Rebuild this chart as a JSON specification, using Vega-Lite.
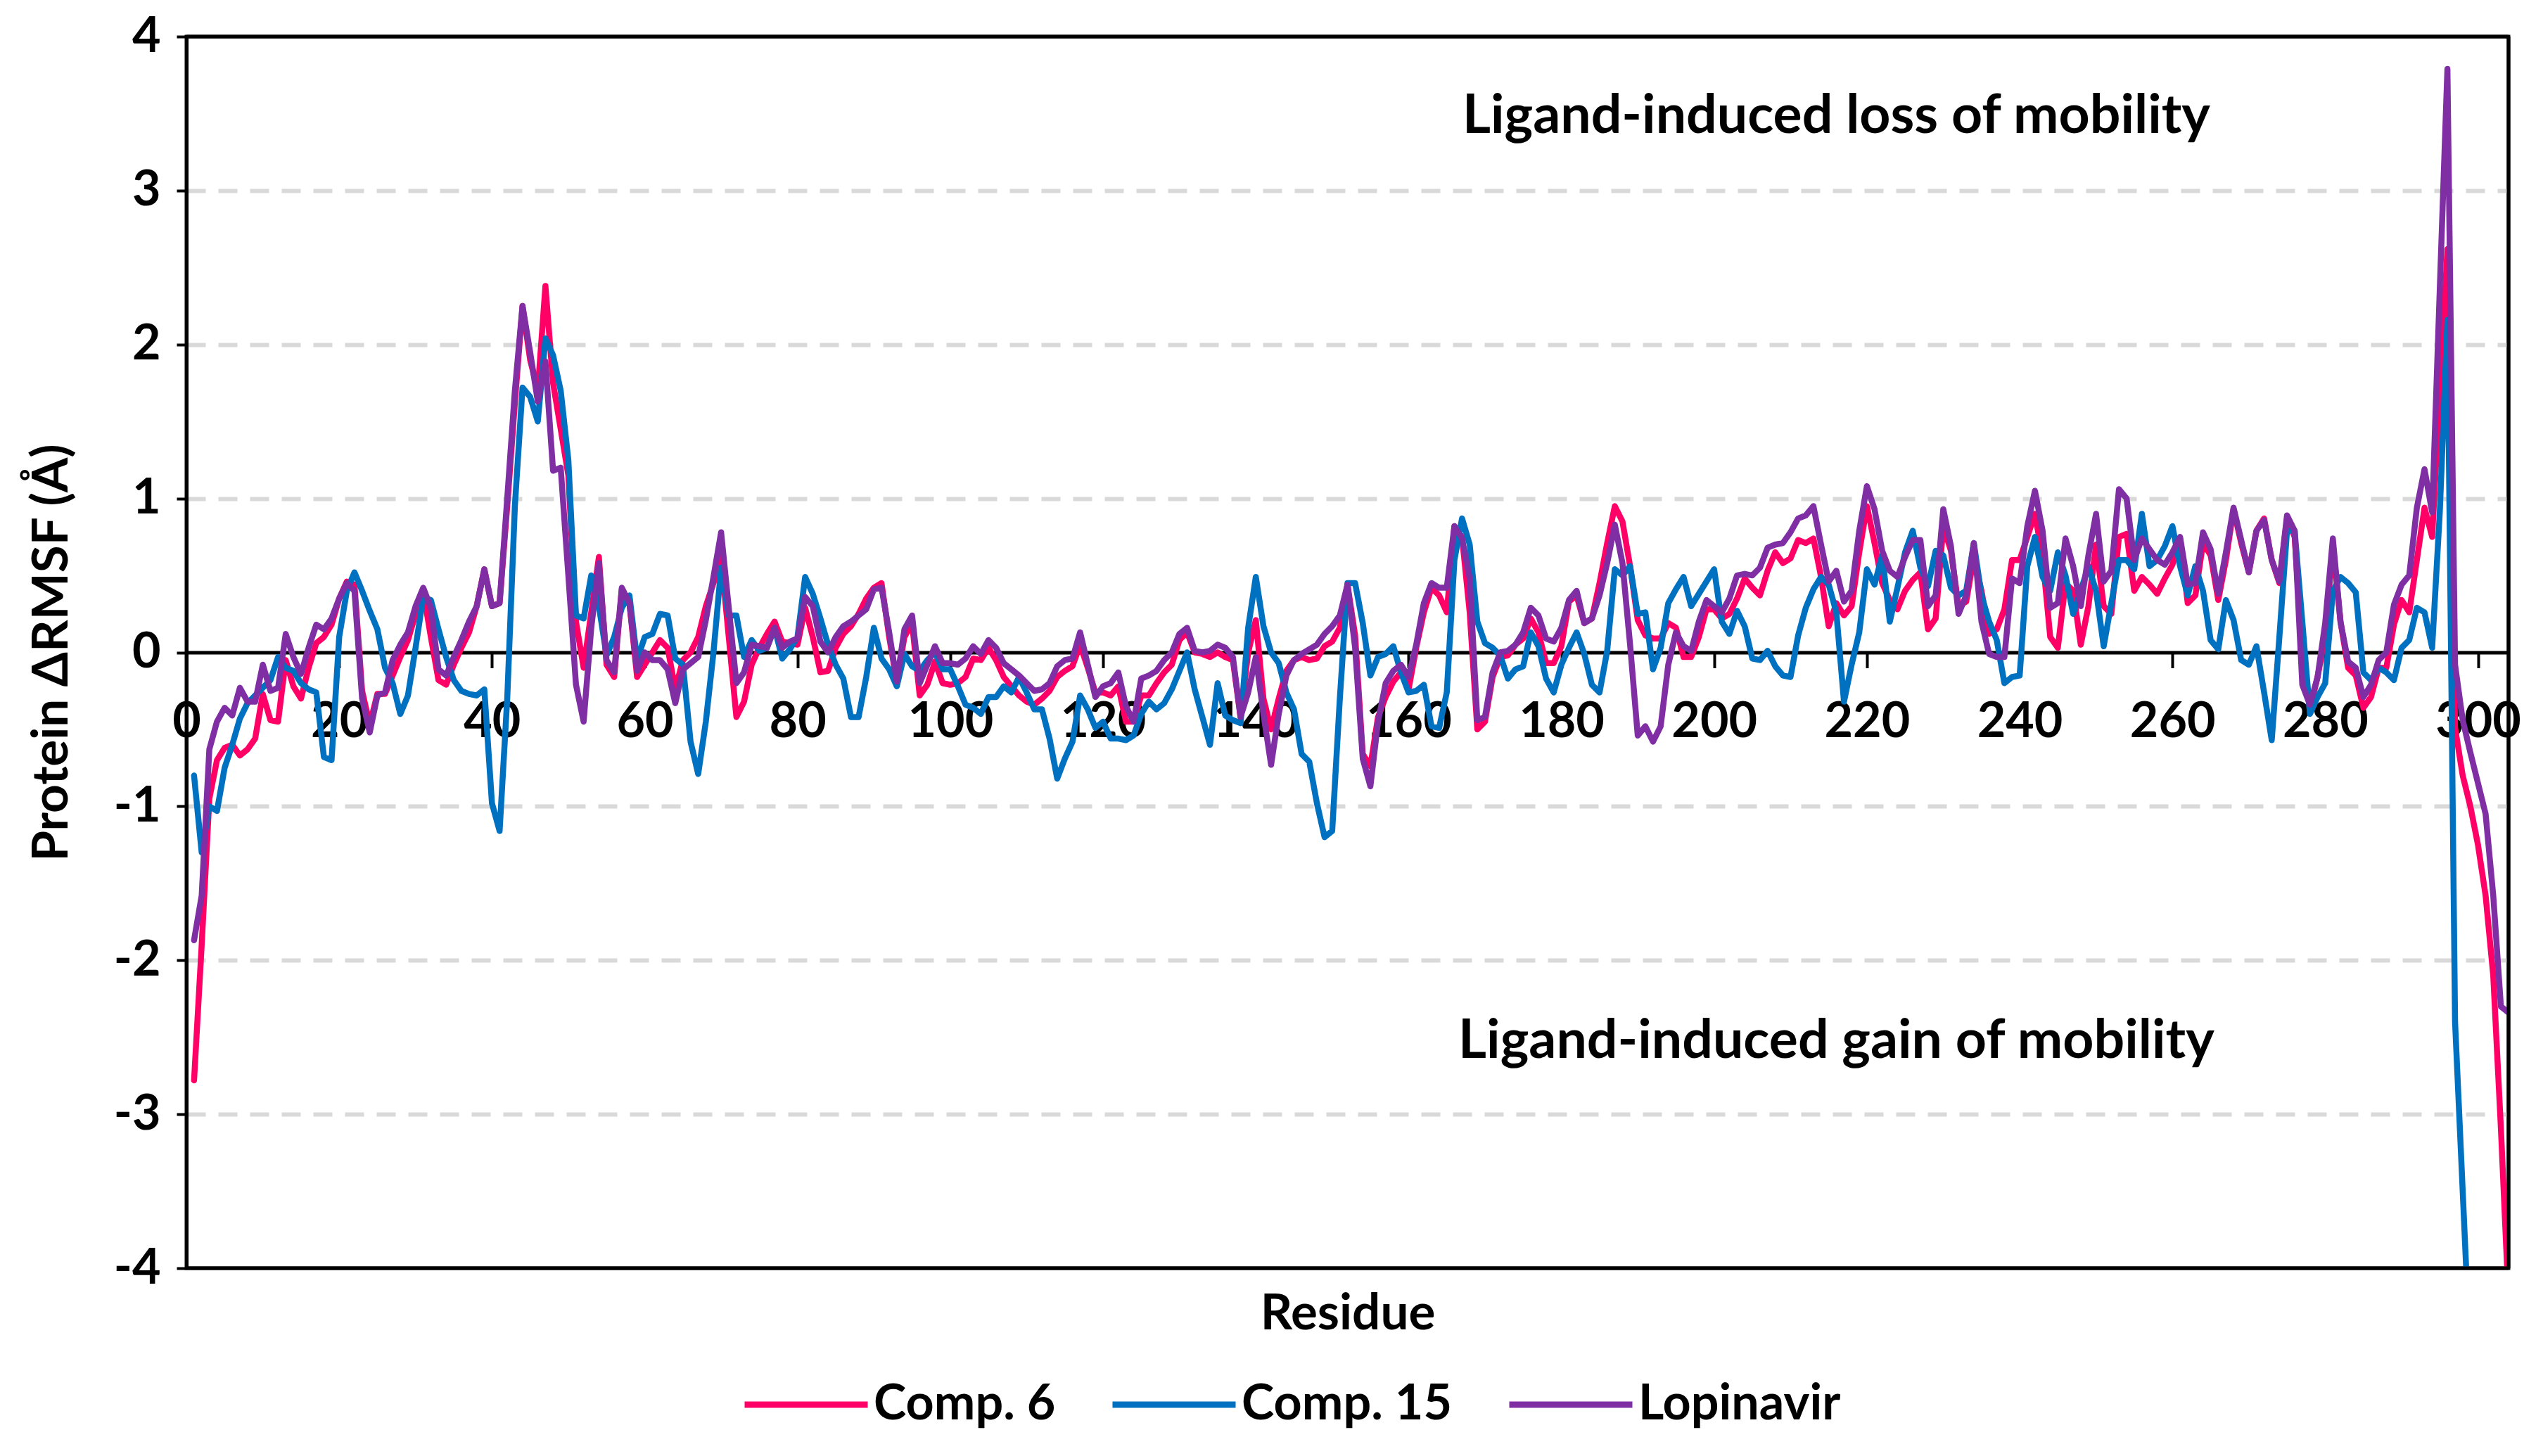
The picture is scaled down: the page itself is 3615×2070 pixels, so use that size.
{
"$schema":"https://vega.github.io/schema/vega-lite/v6.json",
"width":3301,"height":1751,
"autosize":{"type":"none"},
"padding":{"left":265,"top":52,"right":49,"bottom":267},
"background":"white",
"config":{"font":"Lato","view":{"stroke":"black","strokeWidth":5},
 "axis":{"labelFont":"Lato","labelFontSize":70,"labelFontWeight":"bold","labelColor":"black","titleFont":"Lato","titleFontSize":71,"titleFontWeight":"bold","titleColor":"black"}},
"layer":[
{"data":{"values":[
{"s":"Comp. 6","r":1,"v":-2.78},{"s":"Comp. 6","r":2,"v":-1.9},{"s":"Comp. 6","r":3,"v":-0.95},{"s":"Comp. 6","r":4,"v":-0.7},{"s":"Comp. 6","r":5,"v":-0.62},{"s":"Comp. 6","r":6,"v":-0.6},{"s":"Comp. 6","r":7,"v":-0.67},{"s":"Comp. 6","r":8,"v":-0.63},{"s":"Comp. 6","r":9,"v":-0.56},{"s":"Comp. 6","r":10,"v":-0.27},
{"s":"Comp. 6","r":11,"v":-0.44},{"s":"Comp. 6","r":12,"v":-0.45},{"s":"Comp. 6","r":13,"v":-0.05},{"s":"Comp. 6","r":14,"v":-0.22},{"s":"Comp. 6","r":15,"v":-0.3},{"s":"Comp. 6","r":16,"v":-0.1},{"s":"Comp. 6","r":17,"v":0.06},{"s":"Comp. 6","r":18,"v":0.1},{"s":"Comp. 6","r":19,"v":0.18},{"s":"Comp. 6","r":20,"v":0.35},
{"s":"Comp. 6","r":21,"v":0.46},{"s":"Comp. 6","r":22,"v":0.44},{"s":"Comp. 6","r":23,"v":-0.25},{"s":"Comp. 6","r":24,"v":-0.47},{"s":"Comp. 6","r":25,"v":-0.27},{"s":"Comp. 6","r":26,"v":-0.27},{"s":"Comp. 6","r":27,"v":-0.15},{"s":"Comp. 6","r":28,"v":-0.03},{"s":"Comp. 6","r":29,"v":0.08},{"s":"Comp. 6","r":30,"v":0.25},
{"s":"Comp. 6","r":31,"v":0.4},{"s":"Comp. 6","r":32,"v":0.1},{"s":"Comp. 6","r":33,"v":-0.18},{"s":"Comp. 6","r":34,"v":-0.21},{"s":"Comp. 6","r":35,"v":-0.08},{"s":"Comp. 6","r":36,"v":0.03},{"s":"Comp. 6","r":37,"v":0.13},{"s":"Comp. 6","r":38,"v":0.3},{"s":"Comp. 6","r":39,"v":0.54},{"s":"Comp. 6","r":40,"v":0.3},
{"s":"Comp. 6","r":41,"v":0.32},{"s":"Comp. 6","r":42,"v":0.95},{"s":"Comp. 6","r":43,"v":1.62},{"s":"Comp. 6","r":44,"v":2.25},{"s":"Comp. 6","r":45,"v":1.9},{"s":"Comp. 6","r":46,"v":1.7},{"s":"Comp. 6","r":47,"v":2.38},{"s":"Comp. 6","r":48,"v":1.75},{"s":"Comp. 6","r":49,"v":1.45},{"s":"Comp. 6","r":50,"v":1.15},
{"s":"Comp. 6","r":51,"v":0.2},{"s":"Comp. 6","r":52,"v":-0.1},{"s":"Comp. 6","r":53,"v":0.26},{"s":"Comp. 6","r":54,"v":0.62},{"s":"Comp. 6","r":55,"v":-0.08},{"s":"Comp. 6","r":56,"v":-0.16},{"s":"Comp. 6","r":57,"v":0.41},{"s":"Comp. 6","r":58,"v":0.32},{"s":"Comp. 6","r":59,"v":-0.16},{"s":"Comp. 6","r":60,"v":-0.08},
{"s":"Comp. 6","r":61,"v":0},{"s":"Comp. 6","r":62,"v":0.08},{"s":"Comp. 6","r":63,"v":0.03},{"s":"Comp. 6","r":64,"v":-0.24},{"s":"Comp. 6","r":65,"v":-0.05},{"s":"Comp. 6","r":66,"v":0},{"s":"Comp. 6","r":67,"v":0.1},{"s":"Comp. 6","r":68,"v":0.3},{"s":"Comp. 6","r":69,"v":0.45},{"s":"Comp. 6","r":70,"v":0.62},
{"s":"Comp. 6","r":71,"v":0.1},{"s":"Comp. 6","r":72,"v":-0.42},{"s":"Comp. 6","r":73,"v":-0.32},{"s":"Comp. 6","r":74,"v":-0.08},{"s":"Comp. 6","r":75,"v":0.03},{"s":"Comp. 6","r":76,"v":0.12},{"s":"Comp. 6","r":77,"v":0.2},{"s":"Comp. 6","r":78,"v":0.07},{"s":"Comp. 6","r":79,"v":0.06},{"s":"Comp. 6","r":80,"v":0.05},
{"s":"Comp. 6","r":81,"v":0.29},{"s":"Comp. 6","r":82,"v":0.1},{"s":"Comp. 6","r":83,"v":-0.13},{"s":"Comp. 6","r":84,"v":-0.12},{"s":"Comp. 6","r":85,"v":0.03},{"s":"Comp. 6","r":86,"v":0.12},{"s":"Comp. 6","r":87,"v":0.17},{"s":"Comp. 6","r":88,"v":0.25},{"s":"Comp. 6","r":89,"v":0.35},{"s":"Comp. 6","r":90,"v":0.42},
{"s":"Comp. 6","r":91,"v":0.45},{"s":"Comp. 6","r":92,"v":0.1},{"s":"Comp. 6","r":93,"v":-0.19},{"s":"Comp. 6","r":94,"v":0.1},{"s":"Comp. 6","r":95,"v":0.19},{"s":"Comp. 6","r":96,"v":-0.28},{"s":"Comp. 6","r":97,"v":-0.21},{"s":"Comp. 6","r":98,"v":-0.06},{"s":"Comp. 6","r":99,"v":-0.2},{"s":"Comp. 6","r":100,"v":-0.21},
{"s":"Comp. 6","r":101,"v":-0.2},{"s":"Comp. 6","r":102,"v":-0.16},{"s":"Comp. 6","r":103,"v":-0.04},{"s":"Comp. 6","r":104,"v":-0.05},{"s":"Comp. 6","r":105,"v":0.03},{"s":"Comp. 6","r":106,"v":-0.05},{"s":"Comp. 6","r":107,"v":-0.16},{"s":"Comp. 6","r":108,"v":-0.22},{"s":"Comp. 6","r":109,"v":-0.28},{"s":"Comp. 6","r":110,"v":-0.32},
{"s":"Comp. 6","r":111,"v":-0.34},{"s":"Comp. 6","r":112,"v":-0.3},{"s":"Comp. 6","r":113,"v":-0.25},{"s":"Comp. 6","r":114,"v":-0.16},{"s":"Comp. 6","r":115,"v":-0.12},{"s":"Comp. 6","r":116,"v":-0.09},{"s":"Comp. 6","r":117,"v":0.05},{"s":"Comp. 6","r":118,"v":-0.1},{"s":"Comp. 6","r":119,"v":-0.26},{"s":"Comp. 6","r":120,"v":-0.26},
{"s":"Comp. 6","r":121,"v":-0.28},{"s":"Comp. 6","r":122,"v":-0.22},{"s":"Comp. 6","r":123,"v":-0.45},{"s":"Comp. 6","r":124,"v":-0.45},{"s":"Comp. 6","r":125,"v":-0.28},{"s":"Comp. 6","r":126,"v":-0.28},{"s":"Comp. 6","r":127,"v":-0.2},{"s":"Comp. 6","r":128,"v":-0.13},{"s":"Comp. 6","r":129,"v":-0.08},{"s":"Comp. 6","r":130,"v":0.08},
{"s":"Comp. 6","r":131,"v":0.13},{"s":"Comp. 6","r":132,"v":0},{"s":"Comp. 6","r":133,"v":-0.01},{"s":"Comp. 6","r":134,"v":-0.03},{"s":"Comp. 6","r":135,"v":0},{"s":"Comp. 6","r":136,"v":-0.03},{"s":"Comp. 6","r":137,"v":-0.05},{"s":"Comp. 6","r":138,"v":-0.42},{"s":"Comp. 6","r":139,"v":0},{"s":"Comp. 6","r":140,"v":0.21},
{"s":"Comp. 6","r":141,"v":-0.3},{"s":"Comp. 6","r":142,"v":-0.5},{"s":"Comp. 6","r":143,"v":-0.3},{"s":"Comp. 6","r":144,"v":-0.12},{"s":"Comp. 6","r":145,"v":-0.05},{"s":"Comp. 6","r":146,"v":-0.03},{"s":"Comp. 6","r":147,"v":-0.05},{"s":"Comp. 6","r":148,"v":-0.04},{"s":"Comp. 6","r":149,"v":0.04},{"s":"Comp. 6","r":150,"v":0.07},
{"s":"Comp. 6","r":151,"v":0.16},{"s":"Comp. 6","r":152,"v":0.44},{"s":"Comp. 6","r":153,"v":0.11},{"s":"Comp. 6","r":154,"v":-0.66},{"s":"Comp. 6","r":155,"v":-0.74},{"s":"Comp. 6","r":156,"v":-0.42},{"s":"Comp. 6","r":157,"v":-0.29},{"s":"Comp. 6","r":158,"v":-0.19},{"s":"Comp. 6","r":159,"v":-0.13},{"s":"Comp. 6","r":160,"v":-0.24},
{"s":"Comp. 6","r":161,"v":0.03},{"s":"Comp. 6","r":162,"v":0.26},{"s":"Comp. 6","r":163,"v":0.42},{"s":"Comp. 6","r":164,"v":0.37},{"s":"Comp. 6","r":165,"v":0.26},{"s":"Comp. 6","r":166,"v":0.82},{"s":"Comp. 6","r":167,"v":0.75},{"s":"Comp. 6","r":168,"v":0.26},{"s":"Comp. 6","r":169,"v":-0.5},{"s":"Comp. 6","r":170,"v":-0.45},
{"s":"Comp. 6","r":171,"v":-0.16},{"s":"Comp. 6","r":172,"v":-0.03},{"s":"Comp. 6","r":173,"v":-0.02},{"s":"Comp. 6","r":174,"v":0.05},{"s":"Comp. 6","r":175,"v":0.09},{"s":"Comp. 6","r":176,"v":0.22},{"s":"Comp. 6","r":177,"v":0.13},{"s":"Comp. 6","r":178,"v":-0.07},{"s":"Comp. 6","r":179,"v":-0.07},{"s":"Comp. 6","r":180,"v":0.04},
{"s":"Comp. 6","r":181,"v":0.33},{"s":"Comp. 6","r":182,"v":0.37},{"s":"Comp. 6","r":183,"v":0.19},{"s":"Comp. 6","r":184,"v":0.22},{"s":"Comp. 6","r":185,"v":0.45},{"s":"Comp. 6","r":186,"v":0.71},{"s":"Comp. 6","r":187,"v":0.95},{"s":"Comp. 6","r":188,"v":0.85},{"s":"Comp. 6","r":189,"v":0.56},{"s":"Comp. 6","r":190,"v":0.21},
{"s":"Comp. 6","r":191,"v":0.11},{"s":"Comp. 6","r":192,"v":0.09},{"s":"Comp. 6","r":193,"v":0.09},{"s":"Comp. 6","r":194,"v":0.19},{"s":"Comp. 6","r":195,"v":0.16},{"s":"Comp. 6","r":196,"v":-0.03},{"s":"Comp. 6","r":197,"v":-0.03},{"s":"Comp. 6","r":198,"v":0.1},{"s":"Comp. 6","r":199,"v":0.28},{"s":"Comp. 6","r":200,"v":0.28},
{"s":"Comp. 6","r":201,"v":0.22},{"s":"Comp. 6","r":202,"v":0.25},{"s":"Comp. 6","r":203,"v":0.35},{"s":"Comp. 6","r":204,"v":0.48},{"s":"Comp. 6","r":205,"v":0.42},{"s":"Comp. 6","r":206,"v":0.37},{"s":"Comp. 6","r":207,"v":0.53},{"s":"Comp. 6","r":208,"v":0.65},{"s":"Comp. 6","r":209,"v":0.58},{"s":"Comp. 6","r":210,"v":0.61},
{"s":"Comp. 6","r":211,"v":0.73},{"s":"Comp. 6","r":212,"v":0.71},{"s":"Comp. 6","r":213,"v":0.74},{"s":"Comp. 6","r":214,"v":0.49},{"s":"Comp. 6","r":215,"v":0.17},{"s":"Comp. 6","r":216,"v":0.32},{"s":"Comp. 6","r":217,"v":0.24},{"s":"Comp. 6","r":218,"v":0.3},{"s":"Comp. 6","r":219,"v":0.65},{"s":"Comp. 6","r":220,"v":0.95},
{"s":"Comp. 6","r":221,"v":0.71},{"s":"Comp. 6","r":222,"v":0.45},{"s":"Comp. 6","r":223,"v":0.34},{"s":"Comp. 6","r":224,"v":0.28},{"s":"Comp. 6","r":225,"v":0.4},{"s":"Comp. 6","r":226,"v":0.47},{"s":"Comp. 6","r":227,"v":0.52},{"s":"Comp. 6","r":228,"v":0.15},{"s":"Comp. 6","r":229,"v":0.22},{"s":"Comp. 6","r":230,"v":0.82},
{"s":"Comp. 6","r":231,"v":0.66},{"s":"Comp. 6","r":232,"v":0.3},{"s":"Comp. 6","r":233,"v":0.33},{"s":"Comp. 6","r":234,"v":0.62},{"s":"Comp. 6","r":235,"v":0.4},{"s":"Comp. 6","r":236,"v":0.12},{"s":"Comp. 6","r":237,"v":0.15},{"s":"Comp. 6","r":238,"v":0.28},{"s":"Comp. 6","r":239,"v":0.6},{"s":"Comp. 6","r":240,"v":0.6},
{"s":"Comp. 6","r":241,"v":0.75},{"s":"Comp. 6","r":242,"v":0.9},{"s":"Comp. 6","r":243,"v":0.62},{"s":"Comp. 6","r":244,"v":0.1},{"s":"Comp. 6","r":245,"v":0.03},{"s":"Comp. 6","r":246,"v":0.45},{"s":"Comp. 6","r":247,"v":0.4},{"s":"Comp. 6","r":248,"v":0.05},{"s":"Comp. 6","r":249,"v":0.3},{"s":"Comp. 6","r":250,"v":0.7},
{"s":"Comp. 6","r":251,"v":0.3},{"s":"Comp. 6","r":252,"v":0.25},{"s":"Comp. 6","r":253,"v":0.75},{"s":"Comp. 6","r":254,"v":0.77},{"s":"Comp. 6","r":255,"v":0.4},{"s":"Comp. 6","r":256,"v":0.49},{"s":"Comp. 6","r":257,"v":0.44},{"s":"Comp. 6","r":258,"v":0.38},{"s":"Comp. 6","r":259,"v":0.48},{"s":"Comp. 6","r":260,"v":0.57},
{"s":"Comp. 6","r":261,"v":0.74},{"s":"Comp. 6","r":262,"v":0.32},{"s":"Comp. 6","r":263,"v":0.37},{"s":"Comp. 6","r":264,"v":0.71},{"s":"Comp. 6","r":265,"v":0.63},{"s":"Comp. 6","r":266,"v":0.34},{"s":"Comp. 6","r":267,"v":0.6},{"s":"Comp. 6","r":268,"v":0.93},{"s":"Comp. 6","r":269,"v":0.71},{"s":"Comp. 6","r":270,"v":0.52},
{"s":"Comp. 6","r":271,"v":0.79},{"s":"Comp. 6","r":272,"v":0.87},{"s":"Comp. 6","r":273,"v":0.6},{"s":"Comp. 6","r":274,"v":0.45},{"s":"Comp. 6","r":275,"v":0.87},{"s":"Comp. 6","r":276,"v":0.75},{"s":"Comp. 6","r":277,"v":0},{"s":"Comp. 6","r":278,"v":-0.37},{"s":"Comp. 6","r":279,"v":-0.16},{"s":"Comp. 6","r":280,"v":0.11},
{"s":"Comp. 6","r":281,"v":0.7},{"s":"Comp. 6","r":282,"v":0.2},{"s":"Comp. 6","r":283,"v":-0.1},{"s":"Comp. 6","r":284,"v":-0.15},{"s":"Comp. 6","r":285,"v":-0.36},{"s":"Comp. 6","r":286,"v":-0.29},{"s":"Comp. 6","r":287,"v":-0.1},{"s":"Comp. 6","r":288,"v":-0.1},{"s":"Comp. 6","r":289,"v":0.18},{"s":"Comp. 6","r":290,"v":0.34},
{"s":"Comp. 6","r":291,"v":0.26},{"s":"Comp. 6","r":292,"v":0.6},{"s":"Comp. 6","r":293,"v":0.94},{"s":"Comp. 6","r":294,"v":0.75},{"s":"Comp. 6","r":295,"v":1.69},{"s":"Comp. 6","r":296,"v":2.62},{"s":"Comp. 6","r":297,"v":-0.49},{"s":"Comp. 6","r":298,"v":-0.8},{"s":"Comp. 6","r":299,"v":-1.0},{"s":"Comp. 6","r":300,"v":-1.25},
{"s":"Comp. 6","r":301,"v":-1.58},{"s":"Comp. 6","r":302,"v":-2.1},{"s":"Comp. 6","r":303,"v":-3.09},{"s":"Comp. 6","r":304,"v":-4.2},
{"s":"Comp. 15","r":1,"v":-0.8},{"s":"Comp. 15","r":2,"v":-1.3},{"s":"Comp. 15","r":3,"v":-1.0},{"s":"Comp. 15","r":4,"v":-1.03},{"s":"Comp. 15","r":5,"v":-0.75},{"s":"Comp. 15","r":6,"v":-0.6},{"s":"Comp. 15","r":7,"v":-0.43},{"s":"Comp. 15","r":8,"v":-0.33},{"s":"Comp. 15","r":9,"v":-0.28},{"s":"Comp. 15","r":10,"v":-0.23},
{"s":"Comp. 15","r":11,"v":-0.18},{"s":"Comp. 15","r":12,"v":-0.03},{"s":"Comp. 15","r":13,"v":-0.1},{"s":"Comp. 15","r":14,"v":-0.12},{"s":"Comp. 15","r":15,"v":-0.2},{"s":"Comp. 15","r":16,"v":-0.24},{"s":"Comp. 15","r":17,"v":-0.26},{"s":"Comp. 15","r":18,"v":-0.68},{"s":"Comp. 15","r":19,"v":-0.7},{"s":"Comp. 15","r":20,"v":0.1},
{"s":"Comp. 15","r":21,"v":0.4},{"s":"Comp. 15","r":22,"v":0.52},{"s":"Comp. 15","r":23,"v":0.4},{"s":"Comp. 15","r":24,"v":0.27},{"s":"Comp. 15","r":25,"v":0.15},{"s":"Comp. 15","r":26,"v":-0.1},{"s":"Comp. 15","r":27,"v":-0.2},{"s":"Comp. 15","r":28,"v":-0.4},{"s":"Comp. 15","r":29,"v":-0.28},{"s":"Comp. 15","r":30,"v":0.03},
{"s":"Comp. 15","r":31,"v":0.36},{"s":"Comp. 15","r":32,"v":0.34},{"s":"Comp. 15","r":33,"v":0.15},{"s":"Comp. 15","r":34,"v":-0.03},{"s":"Comp. 15","r":35,"v":-0.18},{"s":"Comp. 15","r":36,"v":-0.25},{"s":"Comp. 15","r":37,"v":-0.27},{"s":"Comp. 15","r":38,"v":-0.28},{"s":"Comp. 15","r":39,"v":-0.24},{"s":"Comp. 15","r":40,"v":-0.98},
{"s":"Comp. 15","r":41,"v":-1.16},{"s":"Comp. 15","r":42,"v":-0.3},{"s":"Comp. 15","r":43,"v":0.95},{"s":"Comp. 15","r":44,"v":1.72},{"s":"Comp. 15","r":45,"v":1.66},{"s":"Comp. 15","r":46,"v":1.5},{"s":"Comp. 15","r":47,"v":2.04},{"s":"Comp. 15","r":48,"v":1.93},{"s":"Comp. 15","r":49,"v":1.7},{"s":"Comp. 15","r":50,"v":1.25},
{"s":"Comp. 15","r":51,"v":0.24},{"s":"Comp. 15","r":52,"v":0.22},{"s":"Comp. 15","r":53,"v":0.5},{"s":"Comp. 15","r":54,"v":0.3},{"s":"Comp. 15","r":55,"v":-0.02},{"s":"Comp. 15","r":56,"v":0.1},{"s":"Comp. 15","r":57,"v":0.29},{"s":"Comp. 15","r":58,"v":0.37},{"s":"Comp. 15","r":59,"v":-0.05},{"s":"Comp. 15","r":60,"v":0.1},
{"s":"Comp. 15","r":61,"v":0.12},{"s":"Comp. 15","r":62,"v":0.25},{"s":"Comp. 15","r":63,"v":0.24},{"s":"Comp. 15","r":64,"v":-0.04},{"s":"Comp. 15","r":65,"v":-0.08},{"s":"Comp. 15","r":66,"v":-0.58},{"s":"Comp. 15","r":67,"v":-0.79},{"s":"Comp. 15","r":68,"v":-0.45},{"s":"Comp. 15","r":69,"v":0},{"s":"Comp. 15","r":70,"v":0.55},
{"s":"Comp. 15","r":71,"v":0.24},{"s":"Comp. 15","r":72,"v":0.24},{"s":"Comp. 15","r":73,"v":-0.03},{"s":"Comp. 15","r":74,"v":0.08},{"s":"Comp. 15","r":75,"v":0.01},{"s":"Comp. 15","r":76,"v":0.03},{"s":"Comp. 15","r":77,"v":0.16},{"s":"Comp. 15","r":78,"v":-0.04},{"s":"Comp. 15","r":79,"v":0.02},{"s":"Comp. 15","r":80,"v":0.1},
{"s":"Comp. 15","r":81,"v":0.49},{"s":"Comp. 15","r":82,"v":0.38},{"s":"Comp. 15","r":83,"v":0.22},{"s":"Comp. 15","r":84,"v":0.05},{"s":"Comp. 15","r":85,"v":-0.08},{"s":"Comp. 15","r":86,"v":-0.17},{"s":"Comp. 15","r":87,"v":-0.42},{"s":"Comp. 15","r":88,"v":-0.42},{"s":"Comp. 15","r":89,"v":-0.16},{"s":"Comp. 15","r":90,"v":0.16},
{"s":"Comp. 15","r":91,"v":-0.04},{"s":"Comp. 15","r":92,"v":-0.11},{"s":"Comp. 15","r":93,"v":-0.22},{"s":"Comp. 15","r":94,"v":-0.01},{"s":"Comp. 15","r":95,"v":-0.09},{"s":"Comp. 15","r":96,"v":-0.12},{"s":"Comp. 15","r":97,"v":-0.05},{"s":"Comp. 15","r":98,"v":0},{"s":"Comp. 15","r":99,"v":-0.11},{"s":"Comp. 15","r":100,"v":-0.11},
{"s":"Comp. 15","r":101,"v":-0.22},{"s":"Comp. 15","r":102,"v":-0.34},{"s":"Comp. 15","r":103,"v":-0.36},{"s":"Comp. 15","r":104,"v":-0.4},{"s":"Comp. 15","r":105,"v":-0.29},{"s":"Comp. 15","r":106,"v":-0.29},{"s":"Comp. 15","r":107,"v":-0.22},{"s":"Comp. 15","r":108,"v":-0.26},{"s":"Comp. 15","r":109,"v":-0.16},{"s":"Comp. 15","r":110,"v":-0.26},
{"s":"Comp. 15","r":111,"v":-0.37},{"s":"Comp. 15","r":112,"v":-0.37},{"s":"Comp. 15","r":113,"v":-0.56},{"s":"Comp. 15","r":114,"v":-0.82},{"s":"Comp. 15","r":115,"v":-0.69},{"s":"Comp. 15","r":116,"v":-0.58},{"s":"Comp. 15","r":117,"v":-0.28},{"s":"Comp. 15","r":118,"v":-0.37},{"s":"Comp. 15","r":119,"v":-0.49},{"s":"Comp. 15","r":120,"v":-0.45},
{"s":"Comp. 15","r":121,"v":-0.56},{"s":"Comp. 15","r":122,"v":-0.56},{"s":"Comp. 15","r":123,"v":-0.57},{"s":"Comp. 15","r":124,"v":-0.54},{"s":"Comp. 15","r":125,"v":-0.4},{"s":"Comp. 15","r":126,"v":-0.32},{"s":"Comp. 15","r":127,"v":-0.37},{"s":"Comp. 15","r":128,"v":-0.33},{"s":"Comp. 15","r":129,"v":-0.24},{"s":"Comp. 15","r":130,"v":-0.12},
{"s":"Comp. 15","r":131,"v":0},{"s":"Comp. 15","r":132,"v":-0.24},{"s":"Comp. 15","r":133,"v":-0.42},{"s":"Comp. 15","r":134,"v":-0.6},{"s":"Comp. 15","r":135,"v":-0.2},{"s":"Comp. 15","r":136,"v":-0.41},{"s":"Comp. 15","r":137,"v":-0.44},{"s":"Comp. 15","r":138,"v":-0.46},{"s":"Comp. 15","r":139,"v":0.16},{"s":"Comp. 15","r":140,"v":0.49},
{"s":"Comp. 15","r":141,"v":0.17},{"s":"Comp. 15","r":142,"v":0},{"s":"Comp. 15","r":143,"v":-0.07},{"s":"Comp. 15","r":144,"v":-0.26},{"s":"Comp. 15","r":145,"v":-0.37},{"s":"Comp. 15","r":146,"v":-0.66},{"s":"Comp. 15","r":147,"v":-0.71},{"s":"Comp. 15","r":148,"v":-0.98},{"s":"Comp. 15","r":149,"v":-1.2},{"s":"Comp. 15","r":150,"v":-1.16},
{"s":"Comp. 15","r":151,"v":-0.3},{"s":"Comp. 15","r":152,"v":0.45},{"s":"Comp. 15","r":153,"v":0.45},{"s":"Comp. 15","r":154,"v":0.19},{"s":"Comp. 15","r":155,"v":-0.15},{"s":"Comp. 15","r":156,"v":-0.03},{"s":"Comp. 15","r":157,"v":-0.01},{"s":"Comp. 15","r":158,"v":0.04},{"s":"Comp. 15","r":159,"v":-0.13},{"s":"Comp. 15","r":160,"v":-0.26},
{"s":"Comp. 15","r":161,"v":-0.25},{"s":"Comp. 15","r":162,"v":-0.21},{"s":"Comp. 15","r":163,"v":-0.48},{"s":"Comp. 15","r":164,"v":-0.49},{"s":"Comp. 15","r":165,"v":-0.26},{"s":"Comp. 15","r":166,"v":0.6},{"s":"Comp. 15","r":167,"v":0.87},{"s":"Comp. 15","r":168,"v":0.7},{"s":"Comp. 15","r":169,"v":0.2},{"s":"Comp. 15","r":170,"v":0.06},
{"s":"Comp. 15","r":171,"v":0.03},{"s":"Comp. 15","r":172,"v":-0.02},{"s":"Comp. 15","r":173,"v":-0.17},{"s":"Comp. 15","r":174,"v":-0.11},{"s":"Comp. 15","r":175,"v":-0.09},{"s":"Comp. 15","r":176,"v":0.13},{"s":"Comp. 15","r":177,"v":0.04},{"s":"Comp. 15","r":178,"v":-0.17},{"s":"Comp. 15","r":179,"v":-0.26},{"s":"Comp. 15","r":180,"v":-0.08},
{"s":"Comp. 15","r":181,"v":0.03},{"s":"Comp. 15","r":182,"v":0.13},{"s":"Comp. 15","r":183,"v":-0.01},{"s":"Comp. 15","r":184,"v":-0.21},{"s":"Comp. 15","r":185,"v":-0.26},{"s":"Comp. 15","r":186,"v":0.01},{"s":"Comp. 15","r":187,"v":0.54},{"s":"Comp. 15","r":188,"v":0.5},{"s":"Comp. 15","r":189,"v":0.56},{"s":"Comp. 15","r":190,"v":0.25},
{"s":"Comp. 15","r":191,"v":0.26},{"s":"Comp. 15","r":192,"v":-0.11},{"s":"Comp. 15","r":193,"v":0.03},{"s":"Comp. 15","r":194,"v":0.32},{"s":"Comp. 15","r":195,"v":0.41},{"s":"Comp. 15","r":196,"v":0.49},{"s":"Comp. 15","r":197,"v":0.3},{"s":"Comp. 15","r":198,"v":0.38},{"s":"Comp. 15","r":199,"v":0.46},{"s":"Comp. 15","r":200,"v":0.54},
{"s":"Comp. 15","r":201,"v":0.2},{"s":"Comp. 15","r":202,"v":0.12},{"s":"Comp. 15","r":203,"v":0.27},{"s":"Comp. 15","r":204,"v":0.17},{"s":"Comp. 15","r":205,"v":-0.04},{"s":"Comp. 15","r":206,"v":-0.05},{"s":"Comp. 15","r":207,"v":0.01},{"s":"Comp. 15","r":208,"v":-0.09},{"s":"Comp. 15","r":209,"v":-0.15},{"s":"Comp. 15","r":210,"v":-0.16},
{"s":"Comp. 15","r":211,"v":0.11},{"s":"Comp. 15","r":212,"v":0.29},{"s":"Comp. 15","r":213,"v":0.41},{"s":"Comp. 15","r":214,"v":0.49},{"s":"Comp. 15","r":215,"v":0.44},{"s":"Comp. 15","r":216,"v":0.26},{"s":"Comp. 15","r":217,"v":-0.32},{"s":"Comp. 15","r":218,"v":-0.08},{"s":"Comp. 15","r":219,"v":0.13},{"s":"Comp. 15","r":220,"v":0.54},
{"s":"Comp. 15","r":221,"v":0.44},{"s":"Comp. 15","r":222,"v":0.63},{"s":"Comp. 15","r":223,"v":0.2},{"s":"Comp. 15","r":224,"v":0.42},{"s":"Comp. 15","r":225,"v":0.65},{"s":"Comp. 15","r":226,"v":0.79},{"s":"Comp. 15","r":227,"v":0.55},{"s":"Comp. 15","r":228,"v":0.43},{"s":"Comp. 15","r":229,"v":0.66},{"s":"Comp. 15","r":230,"v":0.63},
{"s":"Comp. 15","r":231,"v":0.42},{"s":"Comp. 15","r":232,"v":0.37},{"s":"Comp. 15","r":233,"v":0.4},{"s":"Comp. 15","r":234,"v":0.71},{"s":"Comp. 15","r":235,"v":0.37},{"s":"Comp. 15","r":236,"v":0.2},{"s":"Comp. 15","r":237,"v":0.08},{"s":"Comp. 15","r":238,"v":-0.2},{"s":"Comp. 15","r":239,"v":-0.16},{"s":"Comp. 15","r":240,"v":-0.15},
{"s":"Comp. 15","r":241,"v":0.56},{"s":"Comp. 15","r":242,"v":0.75},{"s":"Comp. 15","r":243,"v":0.49},{"s":"Comp. 15","r":244,"v":0.4},{"s":"Comp. 15","r":245,"v":0.65},{"s":"Comp. 15","r":246,"v":0.5},{"s":"Comp. 15","r":247,"v":0.25},{"s":"Comp. 15","r":248,"v":0.4},{"s":"Comp. 15","r":249,"v":0.56},{"s":"Comp. 15","r":250,"v":0.4},
{"s":"Comp. 15","r":251,"v":0.04},{"s":"Comp. 15","r":252,"v":0.32},{"s":"Comp. 15","r":253,"v":0.6},{"s":"Comp. 15","r":254,"v":0.6},{"s":"Comp. 15","r":255,"v":0.54},{"s":"Comp. 15","r":256,"v":0.9},{"s":"Comp. 15","r":257,"v":0.56},{"s":"Comp. 15","r":258,"v":0.6},{"s":"Comp. 15","r":259,"v":0.69},{"s":"Comp. 15","r":260,"v":0.82},
{"s":"Comp. 15","r":261,"v":0.56},{"s":"Comp. 15","r":262,"v":0.37},{"s":"Comp. 15","r":263,"v":0.56},{"s":"Comp. 15","r":264,"v":0.4},{"s":"Comp. 15","r":265,"v":0.08},{"s":"Comp. 15","r":266,"v":0.02},{"s":"Comp. 15","r":267,"v":0.34},{"s":"Comp. 15","r":268,"v":0.21},{"s":"Comp. 15","r":269,"v":-0.05},{"s":"Comp. 15","r":270,"v":-0.08},
{"s":"Comp. 15","r":271,"v":0.04},{"s":"Comp. 15","r":272,"v":-0.26},{"s":"Comp. 15","r":273,"v":-0.57},{"s":"Comp. 15","r":274,"v":0.1},{"s":"Comp. 15","r":275,"v":0.79},{"s":"Comp. 15","r":276,"v":0.79},{"s":"Comp. 15","r":277,"v":0.2},{"s":"Comp. 15","r":278,"v":-0.4},{"s":"Comp. 15","r":279,"v":-0.29},{"s":"Comp. 15","r":280,"v":-0.2},
{"s":"Comp. 15","r":281,"v":0.4},{"s":"Comp. 15","r":282,"v":0.49},{"s":"Comp. 15","r":283,"v":0.45},{"s":"Comp. 15","r":284,"v":0.39},{"s":"Comp. 15","r":285,"v":-0.13},{"s":"Comp. 15","r":286,"v":-0.18},{"s":"Comp. 15","r":287,"v":-0.1},{"s":"Comp. 15","r":288,"v":-0.13},{"s":"Comp. 15","r":289,"v":-0.18},{"s":"Comp. 15","r":290,"v":0.03},
{"s":"Comp. 15","r":291,"v":0.08},{"s":"Comp. 15","r":292,"v":0.29},{"s":"Comp. 15","r":293,"v":0.26},{"s":"Comp. 15","r":294,"v":0.03},{"s":"Comp. 15","r":295,"v":0.91},{"s":"Comp. 15","r":296,"v":2.16},{"s":"Comp. 15","r":297,"v":-2.4},{"s":"Comp. 15","r":298,"v":-3.5},{"s":"Comp. 15","r":299,"v":-4.6},
{"s":"Lopinavir","r":1,"v":-1.87},{"s":"Lopinavir","r":2,"v":-1.58},{"s":"Lopinavir","r":3,"v":-0.63},{"s":"Lopinavir","r":4,"v":-0.45},{"s":"Lopinavir","r":5,"v":-0.36},{"s":"Lopinavir","r":6,"v":-0.41},{"s":"Lopinavir","r":7,"v":-0.23},{"s":"Lopinavir","r":8,"v":-0.32},{"s":"Lopinavir","r":9,"v":-0.32},{"s":"Lopinavir","r":10,"v":-0.08},
{"s":"Lopinavir","r":11,"v":-0.25},{"s":"Lopinavir","r":12,"v":-0.23},{"s":"Lopinavir","r":13,"v":0.12},{"s":"Lopinavir","r":14,"v":-0.03},{"s":"Lopinavir","r":15,"v":-0.14},{"s":"Lopinavir","r":16,"v":0.03},{"s":"Lopinavir","r":17,"v":0.18},{"s":"Lopinavir","r":18,"v":0.15},{"s":"Lopinavir","r":19,"v":0.22},{"s":"Lopinavir","r":20,"v":0.35},
{"s":"Lopinavir","r":21,"v":0.45},{"s":"Lopinavir","r":22,"v":0.4},{"s":"Lopinavir","r":23,"v":-0.3},{"s":"Lopinavir","r":24,"v":-0.52},{"s":"Lopinavir","r":25,"v":-0.28},{"s":"Lopinavir","r":26,"v":-0.26},{"s":"Lopinavir","r":27,"v":-0.05},{"s":"Lopinavir","r":28,"v":0.05},{"s":"Lopinavir","r":29,"v":0.13},{"s":"Lopinavir","r":30,"v":0.3},
{"s":"Lopinavir","r":31,"v":0.42},{"s":"Lopinavir","r":32,"v":0.29},{"s":"Lopinavir","r":33,"v":-0.11},{"s":"Lopinavir","r":34,"v":-0.15},{"s":"Lopinavir","r":35,"v":-0.03},{"s":"Lopinavir","r":36,"v":0.08},{"s":"Lopinavir","r":37,"v":0.2},{"s":"Lopinavir","r":38,"v":0.3},{"s":"Lopinavir","r":39,"v":0.54},{"s":"Lopinavir","r":40,"v":0.3},
{"s":"Lopinavir","r":41,"v":0.32},{"s":"Lopinavir","r":42,"v":1.0},{"s":"Lopinavir","r":43,"v":1.7},{"s":"Lopinavir","r":44,"v":2.25},{"s":"Lopinavir","r":45,"v":1.95},{"s":"Lopinavir","r":46,"v":1.63},{"s":"Lopinavir","r":47,"v":1.89},{"s":"Lopinavir","r":48,"v":1.18},{"s":"Lopinavir","r":49,"v":1.2},{"s":"Lopinavir","r":50,"v":0.5},
{"s":"Lopinavir","r":51,"v":-0.21},{"s":"Lopinavir","r":52,"v":-0.45},{"s":"Lopinavir","r":53,"v":0.16},{"s":"Lopinavir","r":54,"v":0.58},{"s":"Lopinavir","r":55,"v":-0.05},{"s":"Lopinavir","r":56,"v":-0.13},{"s":"Lopinavir","r":57,"v":0.42},{"s":"Lopinavir","r":58,"v":0.32},{"s":"Lopinavir","r":59,"v":-0.12},{"s":"Lopinavir","r":60,"v":0},
{"s":"Lopinavir","r":61,"v":-0.05},{"s":"Lopinavir","r":62,"v":-0.05},{"s":"Lopinavir","r":63,"v":-0.11},{"s":"Lopinavir","r":64,"v":-0.33},{"s":"Lopinavir","r":65,"v":-0.11},{"s":"Lopinavir","r":66,"v":-0.07},{"s":"Lopinavir","r":67,"v":-0.03},{"s":"Lopinavir","r":68,"v":0.21},{"s":"Lopinavir","r":69,"v":0.49},{"s":"Lopinavir","r":70,"v":0.78},
{"s":"Lopinavir","r":71,"v":0.29},{"s":"Lopinavir","r":72,"v":-0.2},{"s":"Lopinavir","r":73,"v":-0.13},{"s":"Lopinavir","r":74,"v":0.05},{"s":"Lopinavir","r":75,"v":0.04},{"s":"Lopinavir","r":76,"v":0.03},{"s":"Lopinavir","r":77,"v":0.16},{"s":"Lopinavir","r":78,"v":0.03},{"s":"Lopinavir","r":79,"v":0.07},{"s":"Lopinavir","r":80,"v":0.09},
{"s":"Lopinavir","r":81,"v":0.36},{"s":"Lopinavir","r":82,"v":0.3},{"s":"Lopinavir","r":83,"v":0.07},{"s":"Lopinavir","r":84,"v":0},{"s":"Lopinavir","r":85,"v":0.1},{"s":"Lopinavir","r":86,"v":0.17},{"s":"Lopinavir","r":87,"v":0.2},{"s":"Lopinavir","r":88,"v":0.24},{"s":"Lopinavir","r":89,"v":0.28},{"s":"Lopinavir","r":90,"v":0.41},
{"s":"Lopinavir","r":91,"v":0.42},{"s":"Lopinavir","r":92,"v":0.13},{"s":"Lopinavir","r":93,"v":-0.19},{"s":"Lopinavir","r":94,"v":0.15},{"s":"Lopinavir","r":95,"v":0.24},{"s":"Lopinavir","r":96,"v":-0.2},{"s":"Lopinavir","r":97,"v":-0.08},{"s":"Lopinavir","r":98,"v":0.04},{"s":"Lopinavir","r":99,"v":-0.07},{"s":"Lopinavir","r":100,"v":-0.07},
{"s":"Lopinavir","r":101,"v":-0.08},{"s":"Lopinavir","r":102,"v":-0.04},{"s":"Lopinavir","r":103,"v":0.04},{"s":"Lopinavir","r":104,"v":-0.01},{"s":"Lopinavir","r":105,"v":0.08},{"s":"Lopinavir","r":106,"v":0.03},{"s":"Lopinavir","r":107,"v":-0.07},{"s":"Lopinavir","r":108,"v":-0.11},{"s":"Lopinavir","r":109,"v":-0.15},{"s":"Lopinavir","r":110,"v":-0.2},
{"s":"Lopinavir","r":111,"v":-0.25},{"s":"Lopinavir","r":112,"v":-0.24},{"s":"Lopinavir","r":113,"v":-0.2},{"s":"Lopinavir","r":114,"v":-0.09},{"s":"Lopinavir","r":115,"v":-0.05},{"s":"Lopinavir","r":116,"v":-0.04},{"s":"Lopinavir","r":117,"v":0.13},{"s":"Lopinavir","r":118,"v":-0.08},{"s":"Lopinavir","r":119,"v":-0.29},{"s":"Lopinavir","r":120,"v":-0.22},
{"s":"Lopinavir","r":121,"v":-0.2},{"s":"Lopinavir","r":122,"v":-0.13},{"s":"Lopinavir","r":123,"v":-0.35},{"s":"Lopinavir","r":124,"v":-0.45},{"s":"Lopinavir","r":125,"v":-0.17},{"s":"Lopinavir","r":126,"v":-0.15},{"s":"Lopinavir","r":127,"v":-0.12},{"s":"Lopinavir","r":128,"v":-0.05},{"s":"Lopinavir","r":129,"v":0},{"s":"Lopinavir","r":130,"v":0.12},
{"s":"Lopinavir","r":131,"v":0.16},{"s":"Lopinavir","r":132,"v":0.01},{"s":"Lopinavir","r":133,"v":0},{"s":"Lopinavir","r":134,"v":0.01},{"s":"Lopinavir","r":135,"v":0.05},{"s":"Lopinavir","r":136,"v":0.03},{"s":"Lopinavir","r":137,"v":-0.03},{"s":"Lopinavir","r":138,"v":-0.42},{"s":"Lopinavir","r":139,"v":-0.26},{"s":"Lopinavir","r":140,"v":-0.03},
{"s":"Lopinavir","r":141,"v":-0.4},{"s":"Lopinavir","r":142,"v":-0.73},{"s":"Lopinavir","r":143,"v":-0.4},{"s":"Lopinavir","r":144,"v":-0.15},{"s":"Lopinavir","r":145,"v":-0.05},{"s":"Lopinavir","r":146,"v":-0.01},{"s":"Lopinavir","r":147,"v":0.02},{"s":"Lopinavir","r":148,"v":0.05},{"s":"Lopinavir","r":149,"v":0.12},{"s":"Lopinavir","r":150,"v":0.17},
{"s":"Lopinavir","r":151,"v":0.24},{"s":"Lopinavir","r":152,"v":0.44},{"s":"Lopinavir","r":153,"v":0.03},{"s":"Lopinavir","r":154,"v":-0.69},{"s":"Lopinavir","r":155,"v":-0.87},{"s":"Lopinavir","r":156,"v":-0.45},{"s":"Lopinavir","r":157,"v":-0.2},{"s":"Lopinavir","r":158,"v":-0.12},{"s":"Lopinavir","r":159,"v":-0.08},{"s":"Lopinavir","r":160,"v":-0.16},
{"s":"Lopinavir","r":161,"v":0.05},{"s":"Lopinavir","r":162,"v":0.32},{"s":"Lopinavir","r":163,"v":0.45},{"s":"Lopinavir","r":164,"v":0.42},{"s":"Lopinavir","r":165,"v":0.42},{"s":"Lopinavir","r":166,"v":0.82},{"s":"Lopinavir","r":167,"v":0.74},{"s":"Lopinavir","r":168,"v":0.48},{"s":"Lopinavir","r":169,"v":-0.44},{"s":"Lopinavir","r":170,"v":-0.42},
{"s":"Lopinavir","r":171,"v":-0.13},{"s":"Lopinavir","r":172,"v":0},{"s":"Lopinavir","r":173,"v":0.01},{"s":"Lopinavir","r":174,"v":0.05},{"s":"Lopinavir","r":175,"v":0.13},{"s":"Lopinavir","r":176,"v":0.29},{"s":"Lopinavir","r":177,"v":0.24},{"s":"Lopinavir","r":178,"v":0.09},{"s":"Lopinavir","r":179,"v":0.07},{"s":"Lopinavir","r":180,"v":0.16},
{"s":"Lopinavir","r":181,"v":0.34},{"s":"Lopinavir","r":182,"v":0.4},{"s":"Lopinavir","r":183,"v":0.19},{"s":"Lopinavir","r":184,"v":0.22},{"s":"Lopinavir","r":185,"v":0.37},{"s":"Lopinavir","r":186,"v":0.58},{"s":"Lopinavir","r":187,"v":0.83},{"s":"Lopinavir","r":188,"v":0.58},{"s":"Lopinavir","r":189,"v":0.05},{"s":"Lopinavir","r":190,"v":-0.54},
{"s":"Lopinavir","r":191,"v":-0.48},{"s":"Lopinavir","r":192,"v":-0.58},{"s":"Lopinavir","r":193,"v":-0.48},{"s":"Lopinavir","r":194,"v":-0.08},{"s":"Lopinavir","r":195,"v":0.13},{"s":"Lopinavir","r":196,"v":0.04},{"s":"Lopinavir","r":197,"v":0.01},{"s":"Lopinavir","r":198,"v":0.2},{"s":"Lopinavir","r":199,"v":0.34},{"s":"Lopinavir","r":200,"v":0.3},
{"s":"Lopinavir","r":201,"v":0.26},{"s":"Lopinavir","r":202,"v":0.35},{"s":"Lopinavir","r":203,"v":0.5},{"s":"Lopinavir","r":204,"v":0.51},{"s":"Lopinavir","r":205,"v":0.5},{"s":"Lopinavir","r":206,"v":0.55},{"s":"Lopinavir","r":207,"v":0.68},{"s":"Lopinavir","r":208,"v":0.7},{"s":"Lopinavir","r":209,"v":0.71},{"s":"Lopinavir","r":210,"v":0.78},
{"s":"Lopinavir","r":211,"v":0.87},{"s":"Lopinavir","r":212,"v":0.89},{"s":"Lopinavir","r":213,"v":0.95},{"s":"Lopinavir","r":214,"v":0.7},{"s":"Lopinavir","r":215,"v":0.46},{"s":"Lopinavir","r":216,"v":0.53},{"s":"Lopinavir","r":217,"v":0.33},{"s":"Lopinavir","r":218,"v":0.4},{"s":"Lopinavir","r":219,"v":0.79},{"s":"Lopinavir","r":220,"v":1.08},
{"s":"Lopinavir","r":221,"v":0.93},{"s":"Lopinavir","r":222,"v":0.66},{"s":"Lopinavir","r":223,"v":0.53},{"s":"Lopinavir","r":224,"v":0.49},{"s":"Lopinavir","r":225,"v":0.62},{"s":"Lopinavir","r":226,"v":0.73},{"s":"Lopinavir","r":227,"v":0.73},{"s":"Lopinavir","r":228,"v":0.3},{"s":"Lopinavir","r":229,"v":0.37},{"s":"Lopinavir","r":230,"v":0.93},
{"s":"Lopinavir","r":231,"v":0.69},{"s":"Lopinavir","r":232,"v":0.25},{"s":"Lopinavir","r":233,"v":0.37},{"s":"Lopinavir","r":234,"v":0.71},{"s":"Lopinavir","r":235,"v":0.2},{"s":"Lopinavir","r":236,"v":-0.01},{"s":"Lopinavir","r":237,"v":-0.03},{"s":"Lopinavir","r":238,"v":-0.03},{"s":"Lopinavir","r":239,"v":0.48},{"s":"Lopinavir","r":240,"v":0.45},
{"s":"Lopinavir","r":241,"v":0.82},{"s":"Lopinavir","r":242,"v":1.05},{"s":"Lopinavir","r":243,"v":0.79},{"s":"Lopinavir","r":244,"v":0.29},{"s":"Lopinavir","r":245,"v":0.32},{"s":"Lopinavir","r":246,"v":0.74},{"s":"Lopinavir","r":247,"v":0.56},{"s":"Lopinavir","r":248,"v":0.3},{"s":"Lopinavir","r":249,"v":0.63},{"s":"Lopinavir","r":250,"v":0.9},
{"s":"Lopinavir","r":251,"v":0.46},{"s":"Lopinavir","r":252,"v":0.53},{"s":"Lopinavir","r":253,"v":1.06},{"s":"Lopinavir","r":254,"v":1.0},{"s":"Lopinavir","r":255,"v":0.6},{"s":"Lopinavir","r":256,"v":0.74},{"s":"Lopinavir","r":257,"v":0.67},{"s":"Lopinavir","r":258,"v":0.6},{"s":"Lopinavir","r":259,"v":0.57},{"s":"Lopinavir","r":260,"v":0.65},
{"s":"Lopinavir","r":261,"v":0.75},{"s":"Lopinavir","r":262,"v":0.44},{"s":"Lopinavir","r":263,"v":0.45},{"s":"Lopinavir","r":264,"v":0.78},{"s":"Lopinavir","r":265,"v":0.67},{"s":"Lopinavir","r":266,"v":0.38},{"s":"Lopinavir","r":267,"v":0.65},{"s":"Lopinavir","r":268,"v":0.94},{"s":"Lopinavir","r":269,"v":0.73},{"s":"Lopinavir","r":270,"v":0.52},
{"s":"Lopinavir","r":271,"v":0.79},{"s":"Lopinavir","r":272,"v":0.86},{"s":"Lopinavir","r":273,"v":0.6},{"s":"Lopinavir","r":274,"v":0.46},{"s":"Lopinavir","r":275,"v":0.89},{"s":"Lopinavir","r":276,"v":0.79},{"s":"Lopinavir","r":277,"v":-0.21},{"s":"Lopinavir","r":278,"v":-0.34},{"s":"Lopinavir","r":279,"v":-0.16},{"s":"Lopinavir","r":280,"v":0.19},
{"s":"Lopinavir","r":281,"v":0.74},{"s":"Lopinavir","r":282,"v":0.2},{"s":"Lopinavir","r":283,"v":-0.06},{"s":"Lopinavir","r":284,"v":-0.1},{"s":"Lopinavir","r":285,"v":-0.29},{"s":"Lopinavir","r":286,"v":-0.21},{"s":"Lopinavir","r":287,"v":-0.05},{"s":"Lopinavir","r":288,"v":0},{"s":"Lopinavir","r":289,"v":0.31},{"s":"Lopinavir","r":290,"v":0.44},
{"s":"Lopinavir","r":291,"v":0.5},{"s":"Lopinavir","r":292,"v":0.94},{"s":"Lopinavir","r":293,"v":1.19},{"s":"Lopinavir","r":294,"v":0.91},{"s":"Lopinavir","r":295,"v":2.36},{"s":"Lopinavir","r":296,"v":3.79},{"s":"Lopinavir","r":297,"v":-0.08},{"s":"Lopinavir","r":298,"v":-0.44},{"s":"Lopinavir","r":299,"v":-0.65},{"s":"Lopinavir","r":300,"v":-0.85},
{"s":"Lopinavir","r":301,"v":-1.05},{"s":"Lopinavir","r":302,"v":-1.58},{"s":"Lopinavir","r":303,"v":-2.3},{"s":"Lopinavir","r":304,"v":-2.34}
]},
"mark":{"type":"line","strokeWidth":8.5,"clip":true,"strokeJoin":"round","strokeCap":"round"},
"encoding":{
"x":{"field":"r","type":"quantitative","scale":{"domain":[0,304],"nice":false,"zero":false},
 "axis":{"title":"Residue","titleY":906,"titleBaseline":"top","values":[0,20,40,60,80,100,120,140,160,180,200,220,240,260,280,300],"offset":-875.5,"grid":false,"domain":true,"domainColor":"black","domainWidth":5,"ticks":true,"tickColor":"black","tickWidth":4,"tickSize":22,"labelPadding":43,"labelFlush":false,"labelOverlap":false}},
"y":{"field":"v","type":"quantitative","scale":{"domain":[-4,4],"nice":false,"zero":false},
 "axis":{"title":"Protein ΔRMSF (Å)","values":[-4,-3,-2,-1,0,1,2,3,4],"labelExpr":"'' + datum.value","grid":true,"gridColor":"#D9D9D9","gridDash":[27,18],"gridWidth":6,"gridOpacity":{"condition":{"test":"datum.value === 0 || datum.value === 4 || datum.value === -4","value":0},"value":1},"domain":true,"domainColor":"black","domainWidth":5,"ticks":true,"tickColor":"black","tickWidth":4,"tickSize":14,"labelPadding":23,"titlePadding":51,"labelOverlap":false}},
"color":{"field":"s","type":"nominal","scale":{"domain":["Comp. 6","Comp. 15","Lopinavir"],"range":["#FF0066","#0070C0","#7F2EA4"]},
 "legend":{"title":null,"orient":"none","legendX":789,"legendY":1853,"direction":"horizontal","symbolType":"stroke","symbolSize":30625,"symbolStrokeWidth":9,"labelFont":"Lato","labelFontSize":70,"labelFontWeight":"bold","labelColor":"black","labelOffset":4,"labelLimit":0,"columnPadding":62}}
}},
{"data":{"values":[{"edge":-4},{"edge":4}]},
"mark":{"type":"rule","color":"black","strokeWidth":5},
"encoding":{"y":{"field":"edge","type":"quantitative","scale":{"domain":[-4,4],"nice":false,"zero":false}}}},
{"data":{"values":[{"edge":304}]},
"mark":{"type":"rule","color":"black","strokeWidth":5},
"encoding":{"x":{"field":"edge","type":"quantitative","scale":{"domain":[0,304],"nice":false,"zero":false}}}},
{"data":{"values":[{"label":"Ligand-induced loss of mobility","r":216,"v":3.48},{"label":"Ligand-induced gain of mobility","r":216,"v":-2.53}]},
"mark":{"type":"text","font":"Lato","fontSize":77,"fontWeight":"bold","color":"black","align":"center","baseline":"middle"},
"encoding":{"x":{"field":"r","type":"quantitative","scale":{"domain":[0,304],"nice":false,"zero":false}},"y":{"field":"v","type":"quantitative","scale":{"domain":[-4,4],"nice":false,"zero":false}},"text":{"field":"label","type":"nominal"}}}
]
}
